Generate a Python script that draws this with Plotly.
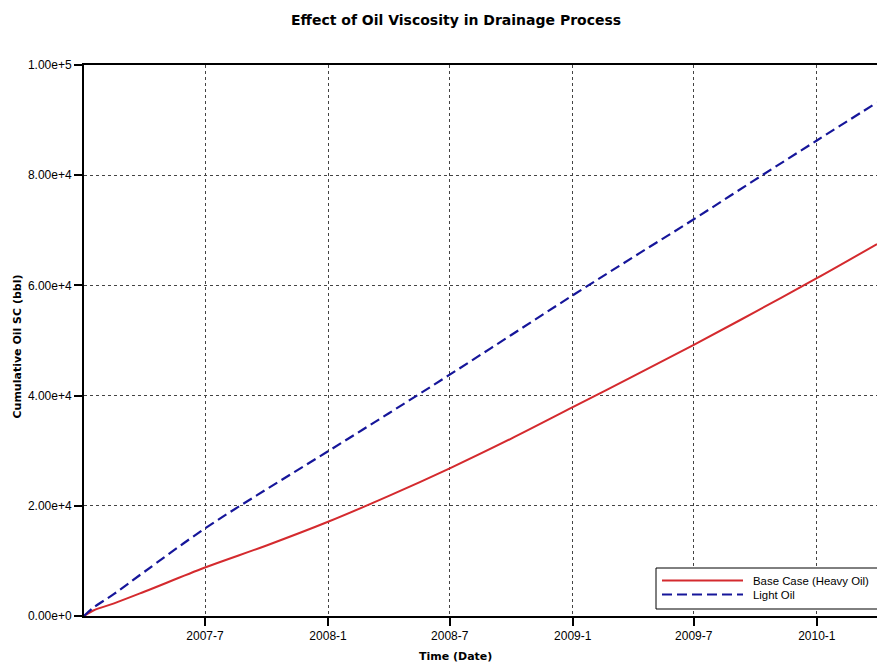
import plotly.graph_objects as go

dates = ["2007-01-01", "2007-01-15", "2007-02-15", "2007-04-01", "2007-07-01",
         "2007-10-01", "2008-01-01", "2008-04-01", "2008-07-01", "2008-10-01",
         "2009-01-01", "2009-04-01", "2009-07-01", "2009-10-01", "2010-01-01",
         "2010-04-01"]
base_case = [0, 1000, 2300, 4400, 8800, 12800, 17100, 21800, 26800, 32200,
             37900, 43500, 49200, 55200, 61300, 67500]
light_oil = [0, 1500, 4000, 8000, 15900, 23000, 29900, 36800, 43800, 51000,
             58200, 65100, 72000, 79200, 86300, 93200]

series_names = ["Base Case (Heavy Oil)", "Light Oil"]
x_tickvals = ["2007-07-01", "2008-01-01", "2008-07-01", "2009-01-01",
              "2009-07-01", "2010-01-01"]
x_ticktext = ["2007-7", "2008-1", "2008-7", "2009-1", "2009-7", "2010-1"]
y_tickvals = [0, 20000, 40000, 60000, 80000, 100000]

font_family = "Liberation Sans, Arial, sans-serif"
title_family = "DejaVu Sans, Verdana, sans-serif"
red = "#d42a2e"
blue = "#16169a"
blue_dash = "10px,5px"

W, H = 877, 663
# plot area in screen pixels
PL, PR, PT, PB = 84, 877, 65, 616
PW, PH = PR - PL, PB - PT


def px(x):
    return (x - PL) / PW


def py(y):
    return (PB - y) / PH


fig = go.Figure()
fig.add_trace(go.Scatter(x=dates, y=base_case, mode="lines",
                         name=series_names[0], line_shape="spline",
                         line=dict(color=red, width=2)))
fig.add_trace(go.Scatter(x=dates, y=light_oil, mode="lines",
                         name=series_names[1], line_shape="spline",
                         line=dict(color=blue, width=2.2, dash=blue_dash)))

shapes = [
    # legend box
    dict(type="rect", xref="paper", yref="paper", x0=px(656), x1=px(890),
         y0=py(609), y1=py(568), line=dict(color="black", width=1),
         fillcolor="white", layer="above"),
    dict(type="line", xref="paper", yref="paper", x0=px(662), x1=px(743),
         y0=py(580.5), y1=py(580.5), line=dict(color=red, width=2), layer="above"),
    dict(type="line", xref="paper", yref="paper", x0=px(662), x1=px(743),
         y0=py(594.5), y1=py(594.5), line=dict(color=blue, width=2.2, dash=blue_dash),
         layer="above"),
]

annotations = [
    dict(text="<b>Effect of Oil Viscosity in Drainage Process</b>",
         xref="paper", yref="paper", x=px(456), y=py(20),
         xanchor="center", yanchor="middle", showarrow=False,
         font=dict(size=14, family=title_family)),
    dict(text="<b>Time (Date)</b>",
         xref="paper", yref="paper", x=px(455), y=py(656),
         xanchor="center", yanchor="middle", showarrow=False,
         font=dict(size=11, family=title_family)),
    dict(text="<b>Cumulative Oil SC (bbl)</b>", textangle=-90,
         xref="paper", yref="paper", x=px(17), y=py(346.5),
         xanchor="center", yanchor="middle", showarrow=False,
         font=dict(size=11, family=title_family)),
    dict(text=series_names[0], xref="paper", yref="paper", x=px(751), y=py(580.5),
         xanchor="left", yanchor="middle", showarrow=False,
         font=dict(size=11.4, family=font_family)),
    dict(text=series_names[1], xref="paper", yref="paper", x=px(751), y=py(594.5),
         xanchor="left", yanchor="middle", showarrow=False,
         font=dict(size=11.4, family=font_family)),
]

fig.update_layout(
    width=W, height=H,
    margin=dict(l=PL, r=W - PR, t=PT, b=H - PB),
    paper_bgcolor="white", plot_bgcolor="white",
    font=dict(family=font_family, size=12, color="black"),
    showlegend=False,
    hovermode=False,
    xaxis=dict(type="date", range=["2007-01-01", "2010-04-01"],
               tickvals=x_tickvals, ticktext=x_ticktext,
               showline=True, linecolor="black", linewidth=2, mirror=True,
               ticks="outside", ticklen=8, tickwidth=2, tickcolor="black",
               showgrid=True, gridcolor="#444444", gridwidth=1, griddash="3px,3px",
               zeroline=False, tickfont=dict(size=12)),
    yaxis=dict(range=[0, 100000], tickvals=y_tickvals, tickformat=".2e",
               showline=True, linecolor="black", linewidth=2,
               ticks="outside", ticklen=8, tickwidth=2, tickcolor="black",
               showgrid=True, gridcolor="#444444", gridwidth=1, griddash="3px,3px",
               zeroline=False, tickfont=dict(size=12)),
    shapes=shapes,
    annotations=annotations,
)

fig.write_html("out.html",
               config={"displayModeBar": False, "staticPlot": True},
               post_script="document.body.style.margin='0';"
                           "document.body.style.overflow='hidden';")
